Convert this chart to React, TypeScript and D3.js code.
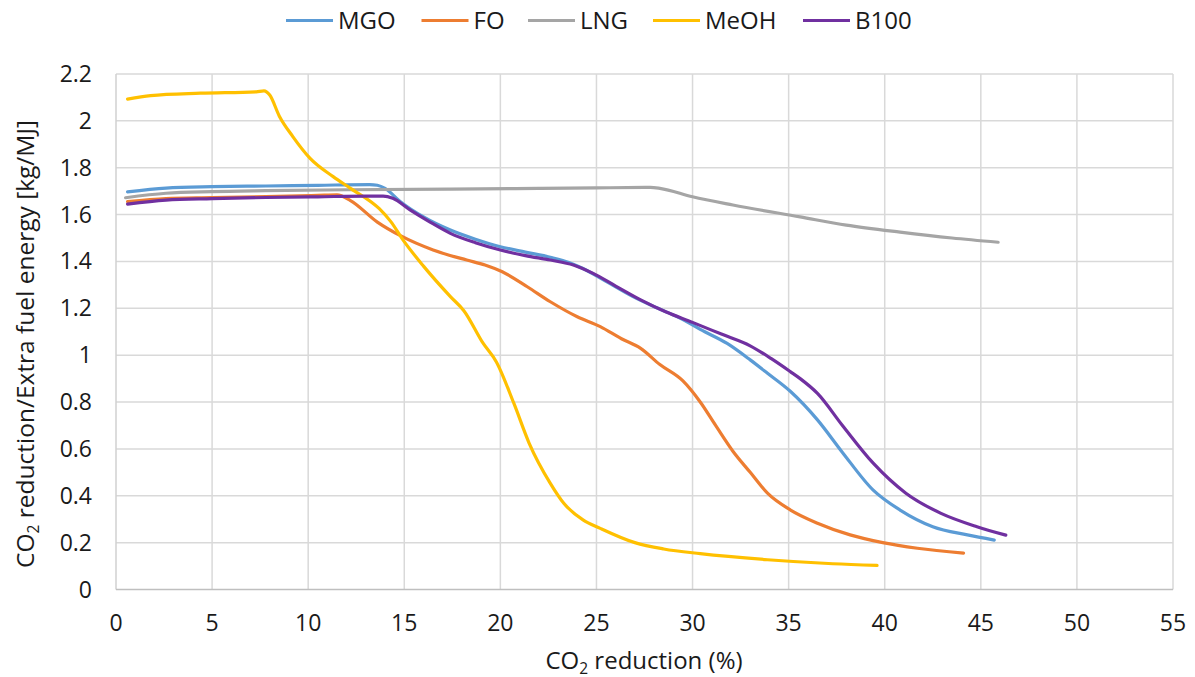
import React from "react";
import * as d3 from "d3";

// series names and colours (Excel palette)
const seriesNames = ["MGO", "FO", "LNG", "MeOH", "B100"];
const seriesColors = ["#5b9bd5", "#ed7d31", "#a5a5a5", "#ffc000", "#7030a0"];

const xTicks = [0, 5, 10, 15, 20, 25, 30, 35, 40, 45, 50, 55];
const yTicks = [0, 0.2, 0.4, 0.6, 0.8, 1, 1.2, 1.4, 1.6, 1.8, 2, 2.2];

// [CO2 reduction %, ratio]
const mgo: [number, number][] = [
  [0.6, 1.697], [2.6, 1.713], [5, 1.719], [7.8, 1.722], [10.5, 1.725], [13.2, 1.728],
  [13.6, 1.725], [14.0, 1.712], [14.8, 1.655], [16, 1.59], [17.4, 1.534], [18.7, 1.495],
  [20, 1.463], [21.3, 1.44], [22.6, 1.418], [23.6, 1.395], [24.3, 1.37], [25.5, 1.315],
  [26.9, 1.25], [28.2, 1.2], [29.5, 1.152], [30.4, 1.11], [31.8, 1.05], [33.0, 0.98],
  [33.9, 0.923], [35.1, 0.845], [36.5, 0.724], [37.8, 0.585], [39.4, 0.424], [40.8, 0.339],
  [42.5, 0.268], [44.3, 0.233], [45.7, 0.211],
];

const fo: [number, number][] = [
  [0.6, 1.655], [2.6, 1.668], [5, 1.672], [7.8, 1.677], [10.5, 1.682], [11.5, 1.684],
  [12.2, 1.66], [13.6, 1.568], [14.8, 1.51], [16.5, 1.449], [18.25, 1.406], [19.2, 1.385],
  [20.1, 1.356], [21.4, 1.292], [22.6, 1.228], [24, 1.164], [25.2, 1.122], [26.3, 1.07],
  [27.3, 1.029], [28.3, 0.96], [29.5, 0.89], [30.4, 0.8], [31.2, 0.7], [32.1, 0.59],
  [33.0, 0.5], [33.9, 0.411], [35.1, 0.339], [36.5, 0.283], [38.2, 0.233], [39.9, 0.2],
  [41.7, 0.176], [44.1, 0.155],
];

const lng: [number, number][] = [
  [0.5, 1.672], [2.6, 1.691], [5, 1.698], [7.8, 1.702], [12, 1.706], [17.4, 1.709],
  [22, 1.712], [25, 1.714], [27.8, 1.716], [28.3, 1.712], [30, 1.676], [32.1, 1.641],
  [35.6, 1.59], [38, 1.555], [40.8, 1.525], [43.5, 1.5], [45.9, 1.482],
];

const meoh: [number, number][] = [
  [0.6, 2.093], [1.8, 2.108], [4.4, 2.118], [7.3, 2.124], [7.7, 2.128], [8.0, 2.11],
  [8.5, 2.02], [9.2, 1.933], [10.1, 1.84], [11.3, 1.762], [12.2, 1.712], [13.7, 1.625],
  [14.3, 1.57], [14.95, 1.49], [16, 1.38], [17.4, 1.25], [18.1, 1.19], [19.1, 1.051],
  [19.8, 0.97], [20.7, 0.795], [21.5, 0.624], [22.6, 0.453], [23.3, 0.368], [24.3, 0.297],
  [25.2, 0.261], [27, 0.2], [28.5, 0.173], [30.4, 0.153], [33.9, 0.127], [37.3, 0.11],
  [39.6, 0.103],
];

const b100: [number, number][] = [
  [0.6, 1.645], [2.6, 1.662], [5, 1.668], [7.8, 1.673], [10.5, 1.676], [13.0, 1.679],
  [13.9, 1.679], [14.4, 1.67], [15.3, 1.62], [16.3, 1.57], [17.4, 1.52], [18.7, 1.48],
  [20, 1.449], [21.3, 1.425], [22.6, 1.406], [23.8, 1.385], [24.8, 1.35], [26, 1.295],
  [27.3, 1.236], [28.6, 1.185], [30, 1.14], [31.5, 1.09], [33.0, 1.04], [34.1, 0.985],
  [35.1, 0.929], [35.6, 0.9], [36.5, 0.837], [37.8, 0.7], [39.4, 0.539], [41.1, 0.411],
  [42.9, 0.326], [44.8, 0.268], [46.3, 0.232],
];

const seriesData = [mgo, fo, lng, meoh, b100];

const width = 1195;
const height = 677;
const margin = { top: 74, right: 22, bottom: 87.5, left: 116 };
const font = "'Open Sans', sans-serif";
const textColor = "#1a1a1a";

// legend item x positions
const legendX = [286, 421.5, 528, 653, 803];

export default function App() {
  const x = d3
    .scaleLinear()
    .domain([0, 55])
    .range([margin.left, width - margin.right]);
  const y = d3
    .scaleLinear()
    .domain([0, 2.2])
    .range([height - margin.bottom, margin.top]);

  const line = d3
    .line<[number, number]>()
    .x((d) => x(d[0]))
    .y((d) => y(d[1]))
    .curve(d3.curveMonotoneX);

  const plotBottom = y(0);

  return (
    <svg
      width={width}
      height={height}
      style={{ position: "absolute", left: 0, top: 0, background: "#fff" }}
      fontFamily={font}
    >
      {/* grid */}
      {yTicks.slice(1).map((t) => (
        <line key={"gy" + t} x1={x(0)} x2={x(55)} y1={y(t)} y2={y(t)} stroke="#d9d9d9" strokeWidth={1.5} />
      ))}
      {xTicks.slice(1).map((t) => (
        <line key={"gx" + t} x1={x(t)} x2={x(t)} y1={y(0)} y2={y(2.2)} stroke="#d9d9d9" strokeWidth={1.5} />
      ))}
      <line x1={x(0)} x2={x(0)} y1={y(0)} y2={y(2.2)} stroke="#d0d0d0" strokeWidth={1.5} />
      <line x1={x(0)} x2={x(55)} y1={plotBottom} y2={plotBottom} stroke="#bfbfbf" strokeWidth={1.5} />

      {/* tick labels */}
      {xTicks.map((t) => (
        <text key={"tx" + t} x={x(t)} y={631} textAnchor="middle" fontSize={23} fill={textColor}>
          {t}
        </text>
      ))}
      {yTicks.map((t) => (
        <text key={"ty" + t} x={92} y={y(t) + 8} textAnchor="end" fontSize={23} fill={textColor}>
          {d3.format("~g")(t)}
        </text>
      ))}

      {/* series */}
      {seriesData.map((d, i) => (
        <path
          key={seriesNames[i]}
          d={line(d) || ""}
          fill="none"
          stroke={seriesColors[i]}
          strokeWidth={3.2}
          strokeLinecap="round"
          strokeLinejoin="round"
        />
      ))}

      {/* axis titles */}
      <text x={644} y={668.5} textAnchor="middle" fontSize={24} fill={textColor}>
        CO<tspan fontSize={15.5} dy={5}>2</tspan>
        <tspan dy={-5}> reduction (%)</tspan>
      </text>
      <text
        transform={`translate(34,${344}) rotate(-90)`}
        textAnchor="middle"
        fontSize={24.5}
        fill={textColor}
      >
        CO<tspan fontSize={15.5} dy={5}>2</tspan>
        <tspan dy={-5}> reduction/Extra fuel energy [kg/MJ]</tspan>
      </text>

      {/* legend */}
      {seriesNames.map((n, i) => (
        <g key={"lg" + n} transform={`translate(${legendX[i]},20.5)`}>
          <line x1={0} x2={47} y1={0} y2={0} stroke={seriesColors[i]} strokeWidth={3.2} />
          <text x={52} y={8.5} fontSize={24} fill={textColor}>
            {n}
          </text>
        </g>
      ))}
    </svg>
  );
}
